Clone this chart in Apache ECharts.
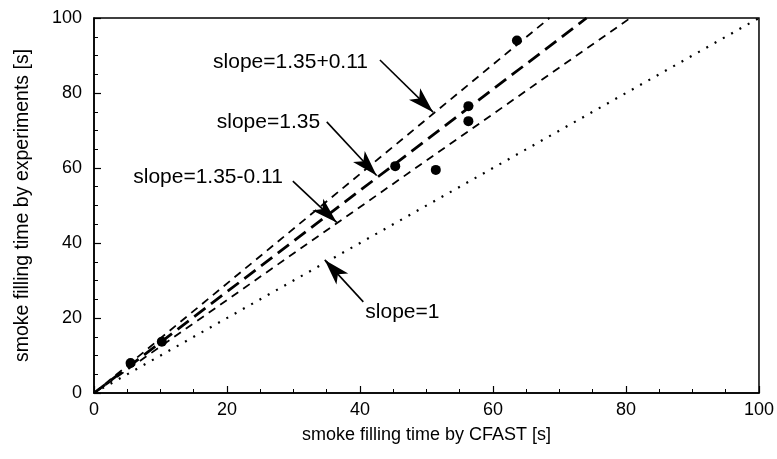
<!DOCTYPE html>
<html>
<head>
<meta charset="utf-8">
<script src="https://cdn.jsdelivr.net/npm/echarts@6/dist/echarts.min.js"></script>
<style>
  html, body { margin: 0; padding: 0; background: #fff; }
  #chart { width: 777px; height: 459px; }
</style>
</head>
<body>
<div id="chart"></div>
<script>
// Smoke filling time: experiments vs. CFAST predictions
const xTickLabels = ['0', '20', '40', '60', '80', '100'];
const yTickLabels = ['0', '20', '40', '60', '80', '100'];

// measured points [CFAST time, experiment time]
const measuredPoints = [
  [5.5, 8.0],
  [10.2, 13.7],
  [45.3, 60.5],
  [51.4, 59.5],
  [56.3, 76.5],
  [56.3, 72.5],
  [63.6, 94.0]
];

// reference lines through the origin
const slopeCentral = 1.35;
const slopeSpread = 0.11;
const slopeUnity = 1;

// callouts: text anchor, arrow tail, arrow tip (data units)
const calloutTexts = ['slope=1.35+0.11', 'slope=1.35', 'slope=1.35-0.11', 'slope=1'];
const calloutAnchors = [[41.2, 88.3], [34.0, 72.3], [28.4, 57.6], [40.8, 21.6]];
const calloutAlign = ['right', 'right', 'right', 'left'];
const arrowTails = [[43.0, 88.8], [35.0, 72.3], [29.9, 56.5], [40.5, 24.3]];
const arrowTips = [[51.0, 74.9], [42.5, 58.0], [36.5, 45.5], [34.7, 35.5]];

const AXIS_MAX = 100;
function lineThroughOrigin(slope) {
  const xEnd = Math.min(AXIS_MAX, AXIS_MAX / slope);
  return [[0, 0], [xEnd, slope * xEnd]];
}

const FONT = 'Liberation Sans';
const chart = echarts.init(document.getElementById('chart'));

const axisCommon = {
  type: 'value',
  min: 0,
  max: 100,
  interval: 20,
  axisLine: { show: true, lineStyle: { color: '#000', width: 1.5 } },
  axisTick: { show: true, inside: true, length: 7, lineStyle: { color: '#000', width: 1.2 } },
  minorTick: { show: true, splitNumber: 4, length: 4, lineStyle: { color: '#000', width: 1 } },
  splitLine: { show: false },
  nameLocation: 'middle'
};

const option = {
  animation: false,
  backgroundColor: '#fff',
  grid: {
    left: 94, right: 18, top: 18, bottom: 66,
    show: true, borderColor: '#000', borderWidth: 1.5, backgroundColor: 'transparent'
  },
  xAxis: Object.assign({}, axisCommon, {
    name: 'smoke filling time by CFAST [s]',
    nameGap: 33,
    nameTextStyle: { color: '#000', fontFamily: FONT, fontSize: 18 },
    axisLabel: {
      color: '#000', fontFamily: FONT, fontSize: 18, margin: 8,
      formatter: v => xTickLabels[Math.round(v / 20)]
    }
  }),
  yAxis: Object.assign({}, axisCommon, {
    name: 'smoke filling time by experiments [s]',
    nameGap: 61,
    nameTextStyle: { color: '#000', fontFamily: FONT, fontSize: 19.5 },
    axisLabel: {
      color: '#000', fontFamily: FONT, fontSize: 18, margin: 12,
      formatter: v => yTickLabels[Math.round(v / 20)]
    }
  }),
  series: [
    {
      name: 'slope=1',
      type: 'line',
      data: lineThroughOrigin(slopeUnity),
      symbol: 'none',
      lineStyle: { color: '#000', width: 2.2, type: [2, 7.5] }
    },
    {
      name: 'slope=1.35-0.11',
      type: 'line',
      data: lineThroughOrigin(slopeCentral - slopeSpread),
      symbol: 'none',
      lineStyle: { color: '#000', width: 1.8, type: [8, 6] }
    },
    {
      name: 'slope=1.35',
      type: 'line',
      data: lineThroughOrigin(slopeCentral),
      symbol: 'none',
      lineStyle: { color: '#000', width: 2.8, type: [14, 7] }
    },
    {
      name: 'slope=1.35+0.11',
      type: 'line',
      data: lineThroughOrigin(slopeCentral + slopeSpread),
      symbol: 'none',
      lineStyle: { color: '#000', width: 1.8, type: [8, 6] }
    },
    {
      name: 'measured',
      type: 'scatter',
      data: measuredPoints,
      symbol: 'circle',
      symbolSize: 10,
      itemStyle: { color: '#000', opacity: 1 },
      z: 5
    },
    {
      name: 'callouts',
      type: 'scatter',
      data: calloutAnchors.map((p, i) => ({
        value: p,
        label: {
          show: true,
          position: 'inside',
          align: calloutAlign[i],
          verticalAlign: 'middle',
          formatter: calloutTexts[i],
          color: '#000',
          fontFamily: FONT,
          fontSize: 21
        }
      })),
      symbolSize: 0,
      itemStyle: { opacity: 1 },
      silent: true,
      markLine: {
        silent: true,
        symbol: ['none', 'arrow'],
        symbolSize: [12, 26],
        label: { show: false },
        lineStyle: { color: '#000', width: 1.6, type: 'solid', opacity: 1 },
        itemStyle: { color: '#000' },
        data: arrowTails.map((t, i) => [{ coord: t }, { coord: arrowTips[i] }])
      },
      z: 6
    }
  ]
};

chart.setOption(option);
</script>
</body>
</html>
